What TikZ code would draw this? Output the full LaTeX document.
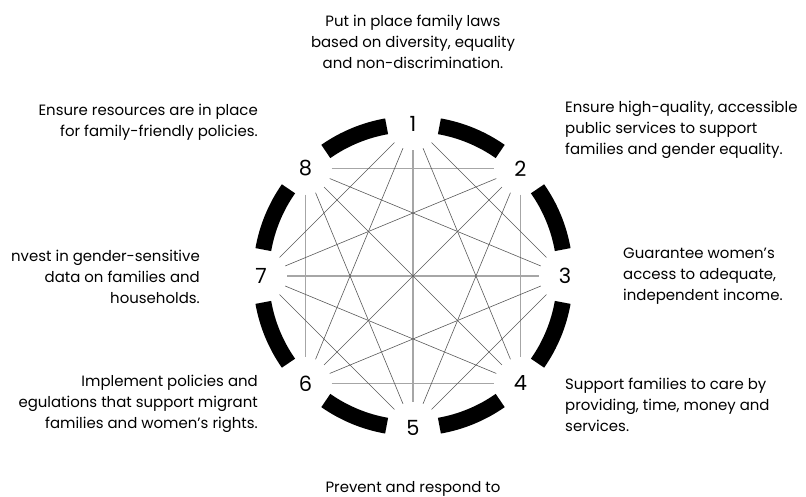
\documentclass[tikz,border=0pt]{standalone}
\usepackage{fontspec}
\setmainfont{Poppins}
\usetikzlibrary{calc}
\begin{document}
\begin{tikzpicture}[x=1bp,y=1bp,
  num/.style={circle,minimum size=52bp,inner sep=0pt,font=\fontsize{21}{21}\selectfont},
  chord/.style={draw=black!65,line width=0.6bp},
  straightchord/.style={draw=black!35,line width=1.3bp},
  ring/.style={draw=black,line width=16bp,line cap=butt},
  txt/.style={inner sep=0pt,font=\fontsize{15}{20.8}\selectfont}
]
\useasboundingbox (0,0) rectangle (806,497);
\coordinate (c) at (413,221);
% number nodes
\foreach \i/\a in {1/90,2/45,3/0,4/-45,5/-90,6/-135,7/180,8/135}{
  \node[num] (n\i) at ($(c)+(\a:152)$) {\i};
}
% ring segments
\foreach \a in {90,45,0,-45,-90,-135,180,135}{
  \draw[ring] ($(c)+(\a+10:152)$) arc[start angle=\a+10,end angle=\a+35,radius=152];
}
% horizontal / vertical chords
\foreach \p/\q in {1/5,8/2,7/3,6/4,8/6,2/4}{
  \draw[straightchord] (n\p) -- (n\q);
}
% diagonal chords
\foreach \p/\q in {1/3,1/4,1/6,1/7,2/5,2/6,2/7,3/5,3/6,3/8,4/7,4/8,5/7,5/8}{
  \draw[chord] (n\p) -- (n\q);
}
% texts
\node[txt,align=center] (t1) at (413,455) {Put in place family laws\\based on diversity, equality\\and non-discrimination.};
\node[txt,align=left,anchor=west] (t2) at (565,367) {Ensure high-quality, accessible\\public services to support\\families and gender equality.};
\node[txt,align=left,anchor=west] (t3) at (623,221) {Guarantee women’s\\access to adequate,\\independent income.};
\node[txt,align=left,anchor=west] (t4) at (565,92) {Support families to care by\\providing, time, money and\\services.};
\node[txt,align=center] (t5) at (413,8) {Prevent and respond to};
\node[txt,align=right,anchor=east] (t6) at (258,93) {Implement policies and\\egulations that support migrant\\families and women’s rights.};
\node[txt,align=right,anchor=east] (t7) at (200,220) {nvest in gender-sensitive\\data on families and\\households.};
\node[txt,align=right,anchor=east] (t8) at (258,375) {Ensure resources are in place\\for family-friendly policies.};
\end{tikzpicture}
\end{document}
